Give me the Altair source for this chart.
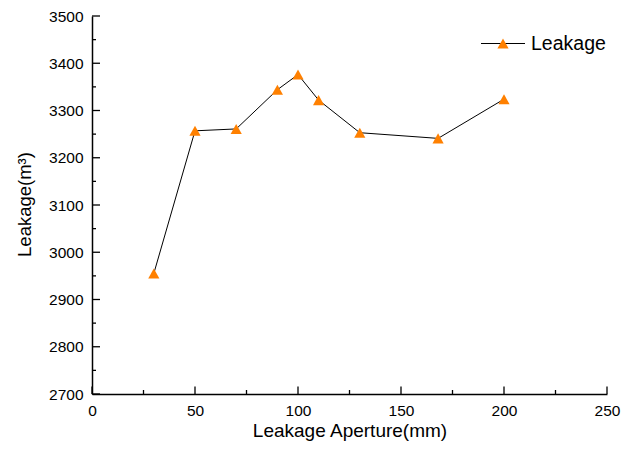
import altair as alt
import pandas as pd

aperture = [30, 50, 70, 90, 100, 110, 130, 168, 200]
leakage = [2955, 3257, 3261, 3344, 3376, 3322, 3253, 3241, 3324]

x_major = [0, 50, 100, 150, 200, 250]
x_minor = [25, 75, 125, 175, 225]
y_major = [2700, 2800, 2900, 3000, 3100, 3200, 3300, 3400, 3500]
y_minor = [2750, 2850, 2950, 3050, 3150, 3250, 3350, 3450]

legend_label = ["Leakage"]

W, H = 515, 378
FONT = "Liberation Sans"
ORANGE = "#FF8000"
TRI = "M0,-0.9L1,0.9L-1,0.9Z"

df = pd.DataFrame({"aperture": aperture, "leakage": leakage})

xscale = alt.Scale(domain=[0, 250], nice=False, zero=False)
yscale = alt.Scale(domain=[2700, 3500], nice=False, zero=False)

xaxis = alt.Axis(values=x_major, format="d", title="Leakage Aperture(mm)", ticks=False, grid=False,
                 domainColor="black", domainWidth=1.5, labelFont=FONT, labelFontSize=15.5,
                 labelColor="black", labelPadding=9, labelFlush=False,
                 titleFont=FONT, titleFontSize=19, titleFontWeight="normal", titleColor="black",
                 titleBaseline="alphabetic", titleY=42)
yaxis = alt.Axis(values=y_major, format="d", title="Leakage(m³)", ticks=False, grid=False,
                 domainColor="black", domainWidth=1.5, labelFont=FONT, labelFontSize=15.5,
                 labelColor="black", labelPadding=9, labelFlush=False,
                 titleFont=FONT, titleFontSize=18.5, titleFontWeight="normal", titleColor="black",
                 titleAngle=270, titleBaseline="alphabetic", titleX=-62, titleY=188)

line = alt.Chart(df).mark_line(color="black", strokeWidth=1).encode(
    x=alt.X("aperture:Q", scale=xscale, axis=xaxis),
    y=alt.Y("leakage:Q", scale=yscale, axis=yaxis),
)
pts = alt.Chart(df).mark_point(shape=TRI, filled=True, fill=ORANGE, opacity=1, size=125, strokeWidth=0).encode(
    x=alt.X("aperture:Q", scale=xscale),
    y=alt.Y("leakage:Q", scale=yscale),
)

def xticks(vals, length):
    return alt.Chart(pd.DataFrame({"v": vals})).mark_rule(color="black", strokeWidth=1.3).encode(
        x=alt.X("v:Q", scale=xscale), y=alt.value(H), y2=alt.value(H - length))

def yticks(vals, length):
    return alt.Chart(pd.DataFrame({"v": vals})).mark_rule(color="black", strokeWidth=1.3).encode(
        y=alt.Y("v:Q", scale=yscale), x=alt.value(0), x2=alt.value(length))

leg_df = pd.DataFrame({"label": legend_label})
leg_line = alt.Chart(leg_df).mark_rule(color="black", strokeWidth=1).encode(
    x=alt.value(389), x2=alt.value(433), y=alt.value(27.5))
leg_pt = alt.Chart(leg_df).mark_point(shape=TRI, filled=True, fill=ORANGE, opacity=1, size=125, strokeWidth=0).encode(
    x=alt.value(411), y=alt.value(27.5))
leg_txt = alt.Chart(leg_df).mark_text(font=FONT, fontSize=19.5, align="left", baseline="alphabetic", color="black").encode(
    x=alt.value(439), y=alt.value(33.6), text="label:N")

chart = alt.layer(
    line, pts,
    xticks(x_major, 7.5), xticks(x_minor, 4),
    yticks(y_major, 8), yticks(y_minor, 4),
    leg_line, leg_pt, leg_txt,
).properties(
    width=W, height=H,
    autosize=alt.AutoSizeParams(type="none"),
    padding={"left": 84, "top": 8, "right": 14, "bottom": 48},
).configure_view(stroke=None)

chart.save("out.html", embed_options={"renderer": "svg", "actions": False})
